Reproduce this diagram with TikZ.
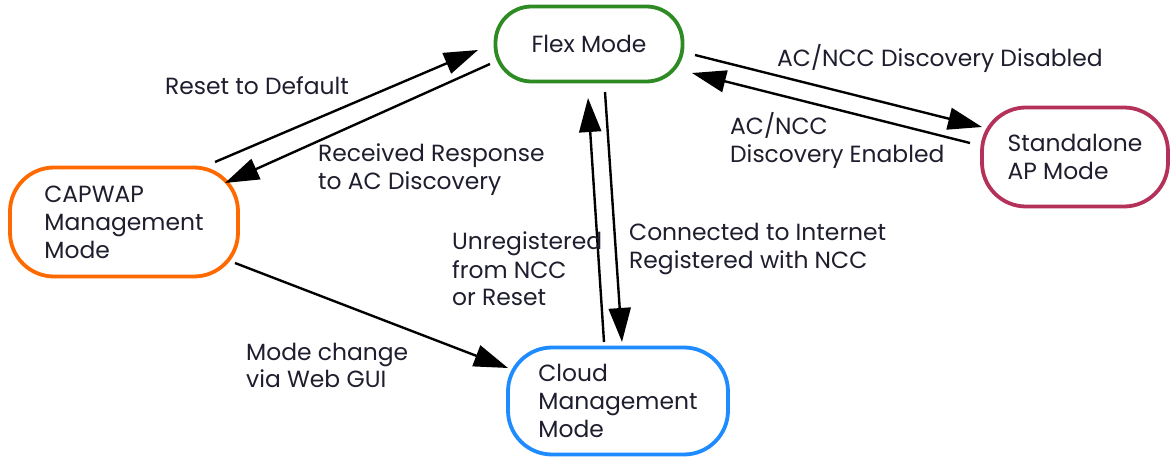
\documentclass[tikz,border=0pt]{standalone}
\usepackage{fontspec}
\setmainfont{Poppins}
\usetikzlibrary{arrows.meta}
\definecolor{txt}{HTML}{1E1E2E}
\definecolor{cgreen}{HTML}{2E8B24}
\definecolor{corange}{HTML}{FF6A00}
\definecolor{cred}{HTML}{B4325A}
\definecolor{cblue}{HTML}{1E8CFF}
\begin{document}
\begin{tikzpicture}[x=1pt,y=-1pt,
  every node/.style={text=txt,font=\fontsize{23.4}{28}\selectfont},
  state/.style={draw,line width=3.8pt,rounded corners=44pt,align=left,inner sep=0pt},
  lbl/.style={anchor=base west,align=left,inner sep=0pt},
  conn/.style={line width=2.4pt,-{Triangle[length=34pt,width=22pt]}}]
\useasboundingbox (0,0) rectangle (1171,457);
\fill[white] (0,0) rectangle (1171,457);
% states
\node[state,draw=cgreen,minimum width=187pt,minimum height=75pt,rounded corners=36pt] (flex) at (589,44) {Flex Mode};
\node[state,draw=corange,minimum width=228pt,minimum height=109pt] (capwap) at (124,222) {CAPWAP\\Management\\Mode};
\node[state,draw=cred,minimum width=186pt,minimum height=99pt] (stand) at (1075,157) {Standalone\\AP Mode};
\node[state,draw=cblue,minimum width=220pt,minimum height=107pt] (cloud) at (618,401) {Cloud\\Management\\Mode};
% connector end points
\coordinate (r1s) at (215,162); \coordinate (r1e) at (478,50);
\coordinate (r2s) at (490,64);  \coordinate (r2e) at (225,183);
\coordinate (d1s) at (695,55);  \coordinate (d1e) at (982,127);
\coordinate (e1s) at (970,143); \coordinate (e1e) at (692,73);
\coordinate (c1s) at (605,92);  \coordinate (c1e) at (622,342);
\coordinate (u1s) at (604,342); \coordinate (u1e) at (588,98);
\coordinate (m1s) at (235,263); \coordinate (m1e) at (508,368);
\draw[conn] (r1s) -- (r1e);
\draw[conn] (r2s) -- (r2e);
\draw[conn] (d1s) -- (d1e);
\draw[conn] (e1s) -- (e1e);
\draw[conn] (c1s) -- (c1e);
\draw[conn] (u1s) -- (u1e);
\draw[conn] (m1s) -- (m1e);
% labels (base = baseline of last line)
\node[lbl] (l1) at (165,95) {Reset to Default};
\node[lbl] (l2) at (318,190) {Received Response\\to AC Discovery};
\node[lbl] (l3) at (777,67) {AC/NCC Discovery Disabled};
\node[lbl] (l4) at (730,163) {AC/NCC\\Discovery Enabled};
\node[lbl] (l5) at (452,306) {Unregistered\\from NCC\\or Reset};
\node[lbl] (l6) at (629,269) {Connected to Internet\\Registered with NCC};
\node[lbl] (l7) at (246,388) {Mode change\\via Web GUI};
\end{tikzpicture}
\end{document}
